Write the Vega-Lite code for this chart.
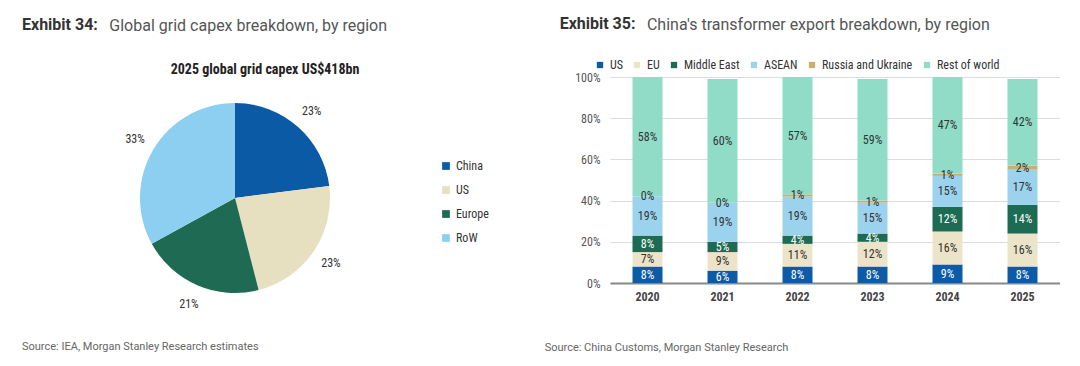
{
  "$schema": "https://vega.github.io/schema/vega-lite/v6.json",
  "background": "white",
  "padding": {"left": 22, "top": 16, "right": 0, "bottom": 0},
  "config": {"view": {"stroke": null}, "font": "Roboto", "concat": {"spacing": 55}},
  "resolve": {"scale": {"color": "independent"}, "legend": {"color": "independent"}},
  "hconcat": [
    {
      "title": {"text": "Source: IEA, Morgan Stanley Research estimates", "orient": "bottom", "anchor": "start", "fontSize": 11, "fontWeight": "normal", "color": "#666", "offset": 22},
      "vconcat": [
        {
          "title": {"text": "Exhibit 34:", "subtitle": "\u200b\u00a0\u00a0\u00a0\u00a0\u00a0\u00a0\u00a0\u00a0\u00a0\u00a0\u00a0\u00a0\u00a0\u00a0\u00a0\u00a0\u00a0\u00a0\u00a0\u00a0\u00a0\u00a0Global grid capex breakdown, by region", "anchor": "start", "fontSize": 16, "fontWeight": "bold", "color": "#333", "subtitleFontSize": 16, "subtitleColor": "#555", "subtitleFont": "Roboto", "subtitlePadding": -15, "offset": 29},
          "vconcat": [
            {
              "title": {"text": "2025 global grid capex US$418bn", "anchor": "middle", "dx": 30, "fontSize": 14, "font": "Roboto Condensed, Liberation Sans Narrow, DejaVu Sans Condensed, Roboto", "fontWeight": "bold", "color": "#222", "offset": 0},
              "width": 426,
              "height": 242,
              "data": {"values": [
                {"region": "China", "share": 23},
                {"region": "US", "share": 23},
                {"region": "Europe", "share": 21},
                {"region": "RoW", "share": 33}
              ]},
              "transform": [
                {"calculate": "indexof(['China','US','Europe','RoW'], datum.region)", "as": "k"},
                {"calculate": "datum.share + '%'", "as": "label"}
              ],
              "encoding": {
                "theta": {"field": "share", "type": "quantitative", "stack": true},
                "order": {"field": "k", "type": "quantitative"}
              },
              "layer": [
                {
                  "mark": {"type": "arc", "outerRadius": 95},
                  "encoding": {
                    "color": {"field": "region", "type": "nominal", "sort": ["China", "US", "Europe", "RoW"],
                      "scale": {"domain": ["China", "US", "Europe", "RoW"], "range": ["#0b5aa6", "#e6dfc0", "#1f6a52", "#8ccff0"]},
                      "legend": {"title": null, "orient": "none", "legendX": 418, "legendY": 83, "symbolType": "square", "symbolSize": 60, "labelFontSize": 12, "labelColor": "#333", "rowPadding": 12, "labelFont": "Roboto Condensed, Liberation Sans Narrow, DejaVu Sans Condensed, Roboto"}}
                  }
                },
                {
                  "mark": {"type": "text", "radius": 116, "font": "Roboto Condensed, Liberation Sans Narrow, DejaVu Sans Condensed, Roboto", "fontSize": 12, "color": "#333"},
                  "encoding": {"text": {"field": "label"}}
                }
              ]
            }
          ]
        }
      ]
    },
    {
      "title": {"text": "Source: China Customs, Morgan Stanley Research", "orient": "bottom", "anchor": "start", "fontSize": 11, "fontWeight": "normal", "color": "#666", "offset": 40, "dx": -15},
      "vconcat": [
        {
          "title": {"text": "Exhibit 35:", "subtitle": "\u200b\u00a0\u00a0\u00a0\u00a0\u00a0\u00a0\u00a0\u00a0\u00a0\u00a0\u00a0\u00a0\u00a0\u00a0\u00a0\u00a0\u00a0\u00a0\u00a0\u00a0\u00a0\u00a0China's transformer export breakdown, by region", "anchor": "start", "dx": -15, "fontSize": 16, "fontWeight": "bold", "color": "#333", "subtitleFontSize": 16, "subtitleColor": "#555", "subtitleFont": "Roboto", "subtitlePadding": -15, "offset": 38},
          "vconcat": [
            {
              "width": 450,
              "height": 206,
              "data": {"values": [
                {"year": "2020", "series": "US", "value": 8},
                {"year": "2020", "series": "EU", "value": 7},
                {"year": "2020", "series": "Middle East", "value": 8},
                {"year": "2020", "series": "ASEAN", "value": 19},
                {"year": "2020", "series": "Russia and Ukraine", "value": 0},
                {"year": "2020", "series": "Rest of world", "value": 58},
                {"year": "2021", "series": "US", "value": 6},
                {"year": "2021", "series": "EU", "value": 9},
                {"year": "2021", "series": "Middle East", "value": 5},
                {"year": "2021", "series": "ASEAN", "value": 19},
                {"year": "2021", "series": "Russia and Ukraine", "value": 0},
                {"year": "2021", "series": "Rest of world", "value": 60},
                {"year": "2022", "series": "US", "value": 8},
                {"year": "2022", "series": "EU", "value": 11},
                {"year": "2022", "series": "Middle East", "value": 4},
                {"year": "2022", "series": "ASEAN", "value": 19},
                {"year": "2022", "series": "Russia and Ukraine", "value": 1},
                {"year": "2022", "series": "Rest of world", "value": 57},
                {"year": "2023", "series": "US", "value": 8},
                {"year": "2023", "series": "EU", "value": 12},
                {"year": "2023", "series": "Middle East", "value": 4},
                {"year": "2023", "series": "ASEAN", "value": 15},
                {"year": "2023", "series": "Russia and Ukraine", "value": 1},
                {"year": "2023", "series": "Rest of world", "value": 59},
                {"year": "2024", "series": "US", "value": 9},
                {"year": "2024", "series": "EU", "value": 16},
                {"year": "2024", "series": "Middle East", "value": 12},
                {"year": "2024", "series": "ASEAN", "value": 15},
                {"year": "2024", "series": "Russia and Ukraine", "value": 1},
                {"year": "2024", "series": "Rest of world", "value": 47},
                {"year": "2025", "series": "US", "value": 8},
                {"year": "2025", "series": "EU", "value": 16},
                {"year": "2025", "series": "Middle East", "value": 14},
                {"year": "2025", "series": "ASEAN", "value": 17},
                {"year": "2025", "series": "Russia and Ukraine", "value": 2},
                {"year": "2025", "series": "Rest of world", "value": 42}
              ]},
              "transform": [
                {"calculate": "indexof(['US','EU','Middle East','ASEAN','Russia and Ukraine','Rest of world'], datum.series)", "as": "k"},
                {"calculate": "datum.value + '%'", "as": "label"}
              ],
              "encoding": {
                "x": {"field": "year", "type": "ordinal", "scale": {"paddingInner": 0.6, "paddingOuter": 0.3},
                  "axis": {"title": null, "labelAngle": 0, "labelFontWeight": "bold", "labelFontSize": 12, "labelColor": "#444", "labelFont": "Roboto Condensed, Liberation Sans Narrow, DejaVu Sans Condensed, Roboto", "ticks": false, "domainColor": "#888", "domainWidth": 2, "labelPadding": 8}},
                "order": {"field": "k", "type": "quantitative"}
              },
              "layer": [
                {
                  "mark": {"type": "bar"},
                  "encoding": {
                    "y": {"field": "value", "type": "quantitative", "stack": "zero", "scale": {"domain": [0, 100]},
                      "axis": {"title": null, "values": [0, 10, 20, 30, 40, 50, 60, 70, 80, 90, 100], "labelExpr": "datum.value + '%'", "labelFontSize": 12, "labelColor": "#555", "labelFont": "Roboto Condensed, Liberation Sans Narrow, DejaVu Sans Condensed, Roboto", "ticks": false, "domain": false, "gridColor": "#dcdcdc", "labelPadding": 10}},
                    "color": {"field": "series", "type": "nominal",
                      "scale": {"domain": ["US", "EU", "Middle East", "ASEAN", "Russia and Ukraine", "Rest of world"], "range": ["#0d5aa7", "#ece4c8", "#1d6b52", "#9bd3ee", "#c8b06a", "#90dcc7"]},
                      "legend": {"title": null, "orient": "none", "legendX": -16, "legendY": -18, "direction": "horizontal", "symbolType": "square", "symbolSize": 40, "labelFontSize": 12, "labelColor": "#333", "columnPadding": 8, "labelFont": "Roboto Condensed, Liberation Sans Narrow, DejaVu Sans Condensed, Roboto"}}
                  }
                },
                {
                  "mark": {"type": "text", "font": "Roboto Condensed, Liberation Sans Narrow, DejaVu Sans Condensed, Roboto", "fontSize": 12},
                  "encoding": {
                    "y": {"field": "value", "type": "quantitative", "stack": "zero", "bandPosition": 0.5},
                    "detail": {"field": "series"},
                    "text": {"field": "label"},
                    "color": {"condition": {"test": "datum.series === 'US' || datum.series === 'Middle East'", "value": "white"}, "value": "#333"}
                  }
                }
              ]
            }
          ]
        }
      ]
    }
  ]
}
